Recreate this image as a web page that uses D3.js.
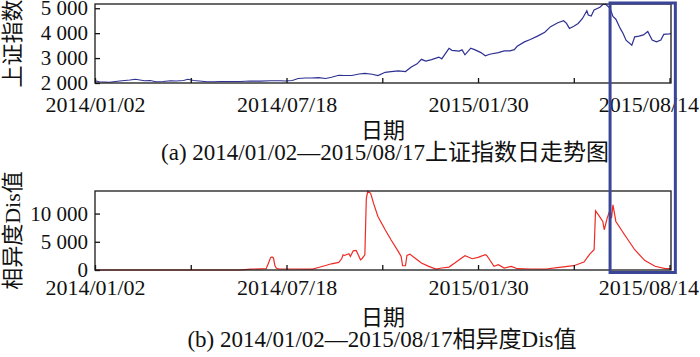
<!DOCTYPE html>
<html>
<head>
<meta charset="utf-8">
<script src="https://cdn.jsdelivr.net/npm/d3@7"></script>
<style>
    body { margin: 0; background: #fff; }
    text { font-family: "Liberation Serif", "Noto Sans CJK SC", serif; fill: #111; }
</style>
</head>
<body>
<svg id="chart" width="700" height="357"></svg>
<script>
// trading-day index (0 = 2014/01/02, 397 = 2015/08/17) and readings
const indexDays = [0, 3, 10, 17, 24, 28, 31, 34, 38, 42, 47, 52, 56, 61, 64, 68, 72, 77, 82, 86, 93, 100, 107, 114, 121, 128,
    131, 136, 140, 145, 149, 154, 159, 163, 168, 172, 177, 182, 186, 191, 195, 200, 204, 209, 214, 218, 222, 225, 228, 232,
    237, 239, 244, 246, 251, 253, 255, 259, 262, 266, 269, 272, 278, 282, 286, 289, 291, 296, 300, 305, 310, 314, 319, 323,
    325, 327, 330, 333, 336, 339, 340, 342, 344, 348, 350, 352, 355, 357, 359, 362, 364, 366, 370, 372, 375, 378, 381, 384,
    387, 390, 392, 396, 397];
const indexValues = [2090, 2050, 2030, 2080, 2120, 2150, 2120, 2090, 2100, 2050, 2060, 2090, 2080, 2100, 2150, 2100, 2080, 2050, 2050, 2060, 2060, 2060, 2080, 2075, 2090, 2090,
    2080, 2100, 2180, 2200, 2200, 2215, 2180, 2230, 2310, 2300, 2300, 2360, 2390, 2350, 2300, 2430, 2460, 2490, 2460, 2640, 2770, 2950, 2880, 2940,
    3040, 2970, 3390, 3310, 3280, 3330, 3130, 3400, 3330, 3220, 3090, 3155, 3220, 3290, 3290, 3340, 3475, 3650, 3745, 3880, 4040, 4260, 4420, 4500,
    4390, 4190, 4280, 4390, 4590, 4900, 4730, 4690, 4930, 5040, 5150, 5160, 5000, 4670, 4560, 4190, 3990, 3720, 3520, 3850, 3880, 3930, 4070, 3720,
    3650, 3720, 3950, 3970, 3990];

const disDays = [0, 100, 107, 118, 120, 121, 122, 123, 124, 125, 127, 135, 150, 154, 159, 163, 168, 170, 171, 172, 175, 176, 178, 180, 183, 184,
    186, 187, 188, 190, 192, 195, 200, 204, 209, 211, 212, 214, 215, 217, 220, 225, 230, 235, 239, 244, 248, 252, 255, 260, 264, 269,
    270, 272, 275, 278, 282, 287, 291, 300, 311, 320, 330, 337, 341, 344, 345, 347, 350, 351, 353, 355, 356, 357, 359, 365, 372, 379,
    386, 393, 397];
const disValues = [0, 0, 150, 230, 1500, 2200, 2300, 2150, 800, 300, 180, 180, 150, 450, 800, 1100, 1350, 1990, 2700, 2580, 2880, 2400, 3400, 3470, 1820, 2000,
    2700, 12700, 13950, 13600, 11800, 9480, 7130, 5360, 3300, 2400, 750, 750, 2580, 2820, 2230, 1230, 640, 160, 350, 520, 1230, 2000, 2520, 2000, 2230, 2700,
    2580, 1820, 640, 940, 350, 640, 230, 180, 180, 470, 760, 1400, 2820, 3590, 10480, 9780, 8600, 7130, 9190, 10660, 9190, 11530, 8600, 6250, 3590, 1660,
    660, 230, 230];

const totalDays = 397;
const tickDays = [0, 66, 132, 198, 264, 330, 396];
const tickLabels = ['2014/01/02', '', '2014/07/18', '', '2015/01/30', '', '2015/08/14'];
const indexTicks = [2000, 3000, 4000, 5000];
const disTicks = [0, 5000, 10000];
const highlightDays = [355, 400];

const svg = d3.select('#chart');
const W = 700;
const x = d3.scaleLinear().domain([0, totalDays]).range([95, 671]);
const fmt = v => d3.format(',')(v).replace(/,/g, ' ');

function drawPanel(opt) {
    const y = d3.scaleLinear().domain(opt.domain).range([opt.bottom, opt.top]);
    const g = svg.append('g');

    const line = d3.line()
        .x((d, i) => x(opt.days[i]))
        .y(d => y(d));

    g.append('path')
        .datum(opt.values)
        .attr('fill', 'none')
        .attr('stroke', opt.color)
        .attr('stroke-width', 1.2)
        .attr('d', line);

    const xAxis = g.append('g')
        .attr('transform', `translate(0,${opt.bottom})`)
        .call(d3.axisBottom(x)
            .tickValues(tickDays)
            .tickSizeInner(-5)
            .tickSizeOuter(0)
            .tickPadding(opt.xPad)
            .tickFormat((d, i) => tickLabels[i]));

    const yAxis = g.append('g')
        .attr('transform', `translate(${x.range()[0]},0)`)
        .call(d3.axisLeft(y)
            .tickValues(opt.ticks)
            .tickSizeInner(-5)
            .tickSizeOuter(0)
            .tickPadding(7)
            .tickFormat(fmt));

    [xAxis, yAxis].forEach(a => {
        a.select('.domain').remove();
        a.selectAll('line').attr('stroke', '#111').attr('stroke-width', 1.3);
        a.selectAll('text').attr('font-family', null).style('fill', '#111');
    });
    xAxis.selectAll('text').style('font-size', '22px');
    yAxis.selectAll('text').style('font-size', '21px');

    // keep tick labels inside the picture
    xAxis.selectAll('text').each(function () {
        const b = this.getBoundingClientRect();
        if (b.right > W) d3.select(this).attr('x', W - b.right - 1);
    });

    g.append('rect')
        .attr('x', x.range()[0])
        .attr('y', opt.top)
        .attr('width', x.range()[1] - x.range()[0])
        .attr('height', opt.bottom - opt.top)
        .attr('fill', 'none')
        .attr('stroke', '#1a1a1a')
        .attr('stroke-width', 1.3);

    g.append('text')
        .attr('transform', `translate(12,${(opt.top + opt.bottom) / 2}) rotate(-90)`)
        .attr('text-anchor', 'middle')
        .attr('dominant-baseline', 'central')
        .style('font-size', '22px')
        .text(opt.yTitle);

    g.append('text')
        .attr('x', 383)
        .attr('y', opt.xTitleY)
        .attr('text-anchor', 'middle')
        .style('font-size', '22px')
        .text('日期');

    g.append('text')
        .attr('x', opt.capX)
        .attr('y', opt.capY)
        .attr('text-anchor', 'middle')
        .style('font-size', '23px')
        .text(opt.caption);

    return y;
}

const yTop = drawPanel({
    days: indexDays, values: indexValues, color: '#2e3192',
    domain: [2000, 5170], top: 4, bottom: 83, ticks: indexTicks, xPad: 13,
    yTitle: '上证指数', xTitleY: 138, capX: 385, capY: 160,
    caption: '(a) 2014/01/02\u20142015/08/17上证指数日走势图'
});

const yBot = drawPanel({
    days: disDays, values: disValues, color: '#ee2a24',
    domain: [0, 14000], top: 191, bottom: 270, ticks: disTicks, xPad: 9,
    yTitle: '相异度Dis值', xTitleY: 325, capX: 382, capY: 347,
    caption: '(b) 2014/01/02\u20142015/08/17相异度Dis值'
});

// highlight box over the post-peak period
svg.append('rect')
    .attr('x', x(highlightDays[0]))
    .attr('y', 3)
    .attr('width', x(highlightDays[1]) - x(highlightDays[0]))
    .attr('height', yBot(0) + 2.5 - 3)
    .attr('fill', 'none')
    .attr('stroke', '#3a4597')
    .attr('stroke-width', 3);
</script>
</body>
</html>
